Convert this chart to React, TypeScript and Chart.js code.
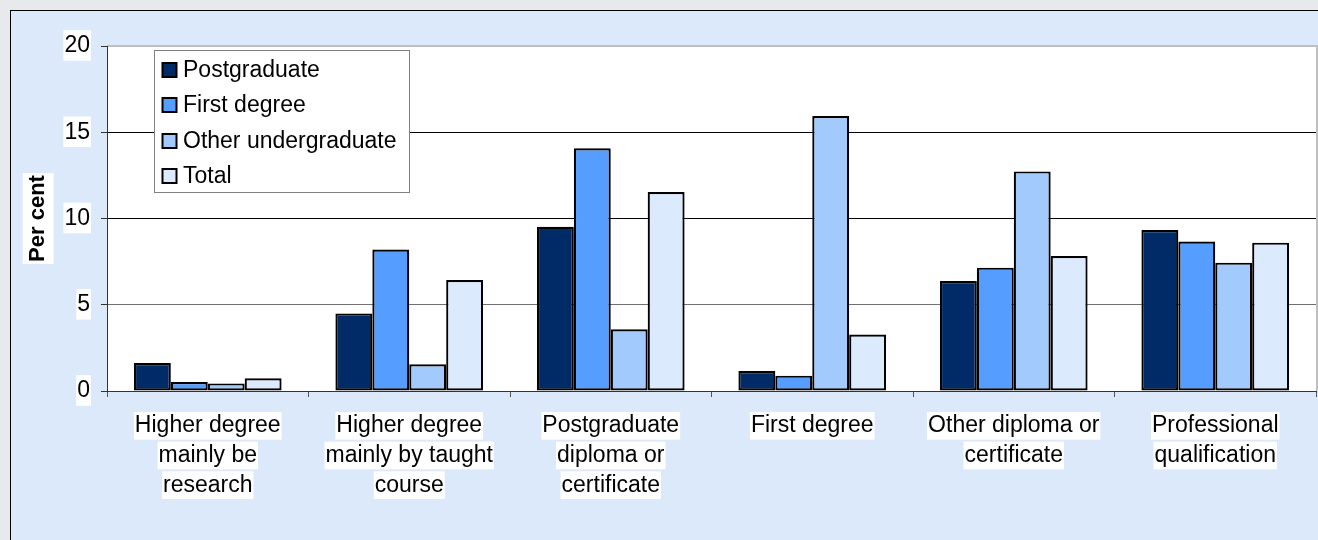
import React, { useEffect, useRef } from 'react';
import { Chart, registerables } from 'chart.js';

Chart.register(...registerables);

// ---------- data ----------
const categories: string[][] = [
  ['Higher degree', 'mainly be', 'research'],
  ['Higher degree', 'mainly by taught', 'course'],
  ['Postgraduate', 'diploma or', 'certificate'],
  ['First degree'],
  ['Other diploma or', 'certificate'],
  ['Professional', 'qualification'],
];

const seriesNames = ['Postgraduate', 'First degree', 'Other undergraduate', 'Total'];

const postgraduate = [1.62, 4.5, 9.52, 1.16, 6.38, 9.33];
const firstDegree = [0.52, 8.2, 14.07, 0.89, 7.15, 8.66];
const otherUndergraduate = [0.44, 1.55, 3.58, 15.94, 12.73, 7.44];
const total = [0.74, 6.43, 11.54, 3.27, 7.83, 8.6];

const seriesColors = ['#002B66', '#559DFE', '#A3CAFD', '#DCEAFD'];

const yTicks = [0, 5, 10, 15, 20];
const yTitle = 'Per cent';

// ---------- styling ----------
const FONT = '"Liberation Sans", Arial, Helvetica, sans-serif';
const TITLE_SIZE = 22;
const TITLE_PAD = 14;
const X_FONT_SIZE = 23;
const X_LINE_HEIGHT = 1.29;
const X_TICK_LEN = 6;
const X_TICK_PAD = 14;

const plotBackground = {
  id: 'plotBackground',
  beforeDraw(chart: any) {
    const { ctx, chartArea: a } = chart;
    ctx.save();
    ctx.fillStyle = '#ffffff';
    ctx.fillRect(a.left, a.top, a.right - a.left, a.bottom - a.top);

    // white backdrop for the y-axis title
    const ys = chart.scales.y;
    ctx.font = `bold ${TITLE_SIZE}px ${FONT}`;
    const w = ctx.measureText(yTitle).width;
    const cx = ys.left + TITLE_PAD + (TITLE_SIZE * 1.2) / 2;
    const cy = (ys.top + ys.bottom) / 2;
    ctx.fillRect(cx - 15.5, cy - w / 2 - 2, 31, w + 4);

    // white backdrops for each line of the category labels
    const xs = chart.scales.x;
    ctx.font = `${X_FONT_SIZE}px ${FONT}`;
    const lh = X_FONT_SIZE * X_LINE_HEIGHT;
    const top0 = a.bottom + X_TICK_LEN + X_TICK_PAD;
    (chart.data.labels as string[][]).forEach((lines, i) => {
      const px = xs.getPixelForTick(i);
      lines.forEach((line, j) => {
        const lw = ctx.measureText(line).width;
        const lcy = top0 + lh / 2 + j * lh;
        ctx.fillRect(px - lw / 2 - 1, lcy - lh / 2 + 1, lw + 2, lh - 2);
      });
    });

    // grey plot border (top & right)
    ctx.strokeStyle = '#c0c0c0';
    ctx.lineWidth = 2;
    ctx.beginPath();
    ctx.moveTo(a.left, a.top);
    ctx.lineTo(a.right + 2, a.top);
    ctx.moveTo(a.right + 1, a.top);
    ctx.lineTo(a.right + 1, a.bottom);
    ctx.stroke();
    ctx.restore();
  },
};

const insideLegend = {
  id: 'insideLegend',
  afterDraw(chart: any) {
    const { ctx, chartArea: a } = chart;
    const x = a.left + 47.5;
    const y = a.top + 4.5;
    const w = 255;
    const h = 142;
    ctx.save();
    ctx.fillStyle = '#ffffff';
    ctx.fillRect(x, y, w, h);
    ctx.strokeStyle = '#808080';
    ctx.lineWidth = 1;
    ctx.strokeRect(x, y, w, h);
    ctx.font = `23px ${FONT}`;
    ctx.textBaseline = 'middle';
    ctx.textAlign = 'left';
    chart.data.datasets.forEach((ds: any, i: number) => {
      const cy = Math.round(y + 19 + i * 35.6);
      ctx.fillStyle = ds.backgroundColor;
      ctx.fillRect(x + 8, cy - 7, 14, 14);
      ctx.strokeStyle = '#000';
      ctx.lineWidth = 2;
      ctx.strokeRect(x + 8, cy - 7, 14, 14);
      ctx.fillStyle = '#000';
      ctx.fillText(ds.label, x + 28.5, cy + 1);
    });
    ctx.restore();
  },
};

export default function App() {
  const ref = useRef<HTMLCanvasElement | null>(null);

  useEffect(() => {
    if (!ref.current) return;
    Chart.defaults.font.family = FONT;
    const seriesData = [postgraduate, firstDegree, otherUndergraduate, total];
    const chart = new Chart(ref.current, {
      type: 'bar',
      data: {
        labels: categories,
        datasets: seriesNames.map((name, i) => ({
          label: name,
          data: seriesData[i],
          backgroundColor: seriesColors[i],
          borderColor: '#000000',
          borderWidth: 2.2,
          borderSkipped: false,
          categoryPercentage: 0.733,
          barPercentage: 1,
        })),
      },
      options: {
        responsive: false,
        animation: false,
        layout: { padding: { left: 0, top: 35, right: 2, bottom: 0 } },
        plugins: {
          legend: { display: false },
          tooltip: { enabled: false },
          title: { display: false },
        },
        scales: {
          x: {
            grid: {
              display: true,
              drawOnChartArea: false,
              drawTicks: true,
              tickLength: X_TICK_LEN,
              tickColor: '#555555',
              offset: true,
            },
            border: { display: true, color: '#333333', width: 1 },
            ticks: {
              color: '#000000',
              font: { size: X_FONT_SIZE, lineHeight: X_LINE_HEIGHT },
              padding: X_TICK_PAD,
              maxRotation: 0,
              minRotation: 0,
              autoSkip: false,
            },
            afterFit: (s: any) => {
              s.height = 149;
            },
          },
          y: {
            min: 0,
            max: 20,
            afterBuildTicks: (s: any) => {
              s.ticks = yTicks.map((v) => ({ value: v }));
            },
            grid: {
              color: (c: any) => {
                const v = c.tick ? c.tick.value : -1;
                if (v === 20) return 'rgba(0,0,0,0)';
                if (v === 5) return '#707070';
                if (v === 0) return '#333333';
                return '#000000';
              },
              lineWidth: 1,
              tickLength: 6,
              tickColor: '#333333',
            },
            border: { display: true, color: '#333333', width: 1 },
            ticks: {
              color: '#000000',
              font: { size: 23 },
              padding: 11,
              showLabelBackdrop: true,
              backdropColor: '#ffffff',
              backdropPadding: { top: 2, bottom: 1, left: 1, right: 1 },
            },
            title: {
              display: true,
              text: yTitle,
              color: '#000000',
              font: { size: TITLE_SIZE, weight: 'bold', lineHeight: 1.2 },
              padding: { top: TITLE_PAD, bottom: 0 },
            },
            afterFit: (s: any) => {
              s.width = 96;
            },
          },
        },
      },
      plugins: [plotBackground, insideLegend],
    } as any);
    return () => chart.destroy();
  }, []);

  return (
    <div
      style={{
        position: 'fixed',
        left: 0,
        top: 0,
        width: 1318,
        height: 540,
        background: '#e8e9ec',
        overflow: 'hidden',
      }}
    >
      <div
        style={{
          position: 'absolute',
          left: 10,
          top: 10,
          width: 1320,
          height: 540,
          border: '1px solid #000',
          background: '#dbe9fb',
        }}
      >
        <canvas
          ref={ref}
          width={1307}
          height={529}
          style={{ position: 'absolute', left: 0, top: 0, width: 1307, height: 529 }}
        />
      </div>
    </div>
  );
}
